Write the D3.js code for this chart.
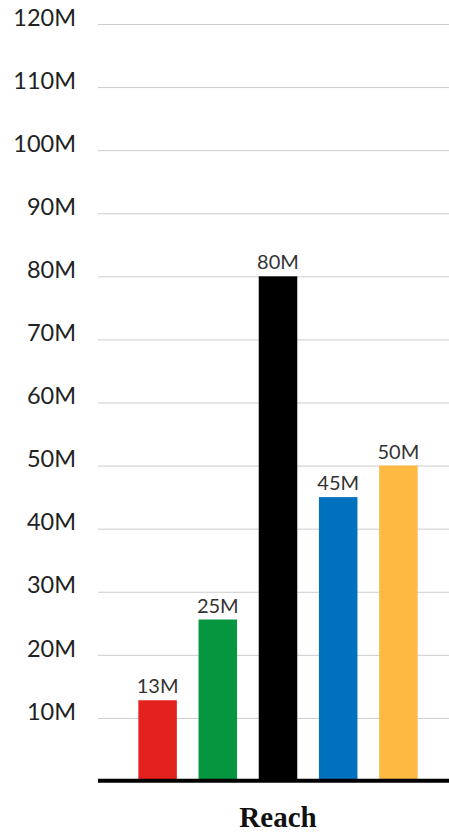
<!DOCTYPE html>
<html>
<head>
<meta charset="utf-8">
<script src="https://cdn.jsdelivr.net/npm/d3@7"></script>
<style>
  body { margin: 0; background: #fff; }
  svg { display: block; }
</style>
</head>
<body>
<div id="chart"></div>
<script>
// values (millions)
var categories = ['A', 'B', 'C', 'D', 'E']
var reach = [12.8, 25.6, 80, 45, 50]
var barLabels = ['13M', '25M', '80M', '45M', '50M']
var barColors = ['#e32220', '#06963f', '#000000', '#0071bd', '#fdb942']
var yTicks = [10, 20, 30, 40, 50, 60, 70, 80, 90, 100, 110, 120]
var xTitle = 'Reach'

var width = 449
var height = 835

var svg = d3.select('#chart').append('svg')
    .attr('width', width)
    .attr('height', height)

var y = d3.scaleLinear().domain([0, 120]).range([781, 24])
var x = d3.scaleBand()
    .domain(categories)
    .range([98, 458])
    .paddingInner(0.36)
    .paddingOuter(0.67)

// gridlines + tick labels
var yAxis = d3.axisLeft(y)
    .tickValues(yTicks)
    .tickSize(-(width - 98))
    .tickFormat(function (d) { return d + 'M' })

var gy = svg.append('g')
    .attr('transform', 'translate(98,0)')
    .call(yAxis)
gy.select('.domain').remove()
gy.selectAll('.tick line')
    .attr('stroke', '#cccccc')
    .attr('stroke-width', 1)
gy.selectAll('.tick text')
    .attr('x', -22)
    .attr('dy', '0.05em')
    .attr('fill', '#222')
    .style('font-family', 'Lato, sans-serif')
    .style('font-size', '23.5px')

// bars
svg.append('g')
    .selectAll('rect')
    .data(reach)
    .join('rect')
    .attr('x', function (d, i) { return x(categories[i]) })
    .attr('width', x.bandwidth())
    .attr('y', function (d) { return y(d) })
    .attr('height', function (d) { return y(0) - y(d) })
    .attr('fill', function (d, i) { return barColors[i] })

// value labels
svg.append('g')
    .selectAll('text')
    .data(reach)
    .join('text')
    .attr('x', function (d, i) { return x(categories[i]) + x.bandwidth() / 2 })
    .attr('y', function (d) { return y(d) - 7 })
    .attr('text-anchor', 'middle')
    .attr('fill', '#333')
    .style('font-family', 'Lato, sans-serif')
    .style('font-size', '20px')
    .text(function (d, i) { return barLabels[i] })

// baseline
svg.append('line')
    .attr('x1', 98)
    .attr('x2', width)
    .attr('y1', y(0) - 0.3)
    .attr('y2', y(0) - 0.3)
    .attr('stroke', '#000')
    .attr('stroke-width', 4)

// axis title
svg.append('text')
    .attr('x', 278)
    .attr('y', 827)
    .attr('text-anchor', 'middle')
    .attr('fill', '#111')
    .style('font-family', '"Liberation Serif", serif')
    .style('font-weight', 'bold')
    .style('font-size', '29px')
    .text(xTitle)
</script>
</body>
</html>
